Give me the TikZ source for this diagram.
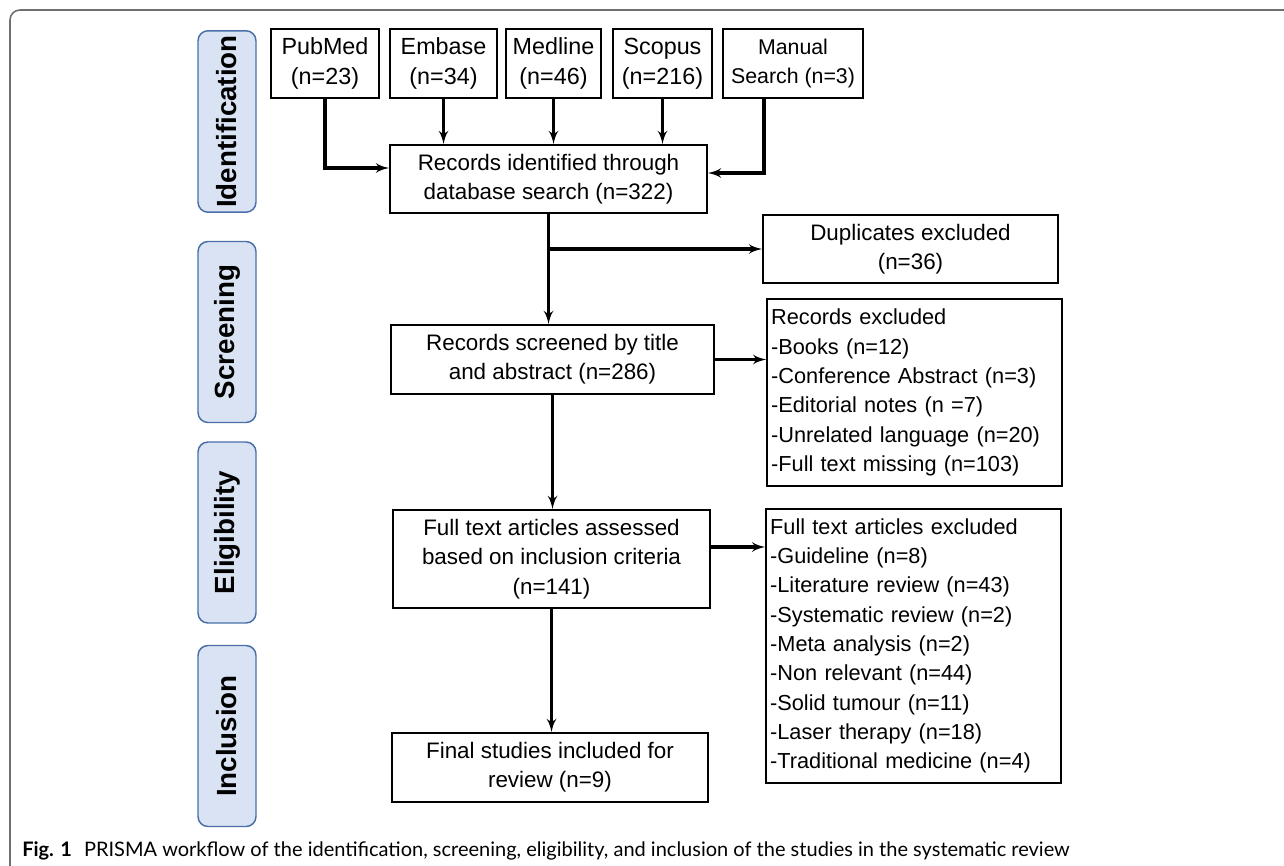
\documentclass[tikz,border=0pt]{standalone}
\usepackage{fontspec}
\setmainfont{Liberation Sans}
\newfontfamily\capfont{Lato}
\usepackage{tikz}
\usetikzlibrary{arrows, calc, positioning, shapes}

\definecolor{stagefill}{HTML}{DAE3F3}
\definecolor{stageline}{HTML}{4A6FA8}
\definecolor{framegray}{HTML}{707070}

\tikzset{
  box/.style      = {draw, line width=1.4pt, align=center, inner sep=2pt,
                     font=\fontsize{16.8}{22}\selectfont},
  srcbox/.style   = {box, minimum height=51.75pt, font=\fontsize{17.5}{22.5}\selectfont},
  listbox/.style  = {draw, line width=1.4pt, align=left, inner sep=3pt,
                     text width=215pt, font=\fontsize{16.3}{22}\selectfont},
  stage/.style    = {draw=stageline, fill=stagefill, line width=1.1pt, rounded corners=7.5pt,
                     rotate=90, minimum width=135.75pt, minimum height=43.5pt,
                     font=\fontsize{20.8}{24}\bfseries\selectfont},
  arr/.style      = {draw, line width=2.4pt, -latex'},
}

\begin{document}
\begin{tikzpicture}[x=0.75pt, y=-0.75pt]

\useasboundingbox (0,0) rectangle (1284,866);
\draw [framegray, line width=1.2pt, rounded corners=7.5pt] (10,870) -- (10,10) -- (1290,10);

% stages
\node [stage] (ident) at (227,121.5) {Identification};
\node [stage] (scree) at (227,332)   {Screening};
\node [stage] (eligi) at (227,532.5) {Eligibility};
\node [stage] (inclu) at (227,736)   {Inclusion};

% sources
\node [srcbox, minimum width=81pt   ] (pubmed)  at (325,63.5)   {PubMed\\(n=23)};
\node [srcbox, minimum width=80.25pt] (embase)  at (443.5,63.5) {Embase\\(n=34)};
\node [srcbox, minimum width=71.25pt] (medline) at (553.5,63.5) {Medline\\(n=46)};
\node [srcbox, minimum width=74.25pt] (scopus)  at (662.5,63.5) {Scopus\\(n=216)};
\node [srcbox, minimum width=105pt, font=\fontsize{16}{22}\selectfont] (manual) at (793,63.5) {Manual\\Search (n=3)};

% main flow
\node [box, minimum width=237.75pt, minimum height=51pt   ] (records)  at (548.5,179)   {Records identified through\\database search (n=322)};
\node [box, minimum width=221.25pt, minimum height=51pt   ] (dupl)     at (910.5,249)   {Duplicates excluded\\(n=36)};
\node [box, minimum width=242.25pt, minimum height=51.75pt] (screened) at (552.5,359.5) {Records screened by title\\and abstract (n=286)};
\node [listbox, minimum height=140.25pt] (recexcl) at (914.5,392.5) {Records excluded\\-Books (n=12)\\-Conference Abstract (n=3)\\-Editorial notes (n =7)\\-Unrelated language (n=20)\\-Full text missing (n=103)};
\node [box, minimum width=237.75pt, minimum height=73.5pt ] (fulltext) at (551.5,559)   {Full text articles assessed\\based on inclusion criteria\\(n=141)};
\node [listbox, minimum height=205.5pt] (ftexcl) at (913.5,646) {Full text articles excluded\\-Guideline (n=8)\\-Literature review (n=43)\\-Systematic review (n=2)\\-Meta analysis (n=2)\\-Non relevant (n=44)\\-Solid tumour (n=11)\\-Laser therapy (n=18)\\-Traditional medicine (n=4)};
\node [box, minimum width=237pt,    minimum height=51.75pt] (final)    at (550,767.5)   {Final studies included for\\review (n=9)};

\coordinate (split) at (records.south |- dupl.west);

\path [arr] (pubmed.south) |- ($(records.west)+(0,-11)$);
\path [arr] (embase.south)  -- (embase.south  |- records.north);
\path [arr] (medline.south) -- (medline.south |- records.north);
\path [arr] (scopus.south)  -- (scopus.south  |- records.north);
\path [arr] ($(manual.south)+(-29,0)$) |- ($(records.east)+(0,-6)$);
\path [arr] (records.south) -- (records.south |- screened.north);
\path [arr] (split) -- (dupl.west);
\path [arr] (screened.east) -- (screened.east -| recexcl.west);
\path [arr] (screened.south) -- (screened.south |- fulltext.north);
\path [arr] ($(fulltext.east)+(0,-12)$) -- ($(fulltext.east -| ftexcl.west)+(0,-12)$);
\path [arr] (fulltext.south) -- (fulltext.south |- final.north);

% caption
\node [anchor=west, inner sep=0pt, font=\capfont\fontsize{15}{17}\selectfont] (caption) at (22,851) {\textbf{Fig. 1}\hspace{0.6em}PRISMA workflow of the identification, screening, eligibility, and inclusion of the studies in the systematic review};

\end{tikzpicture}
\end{document}
